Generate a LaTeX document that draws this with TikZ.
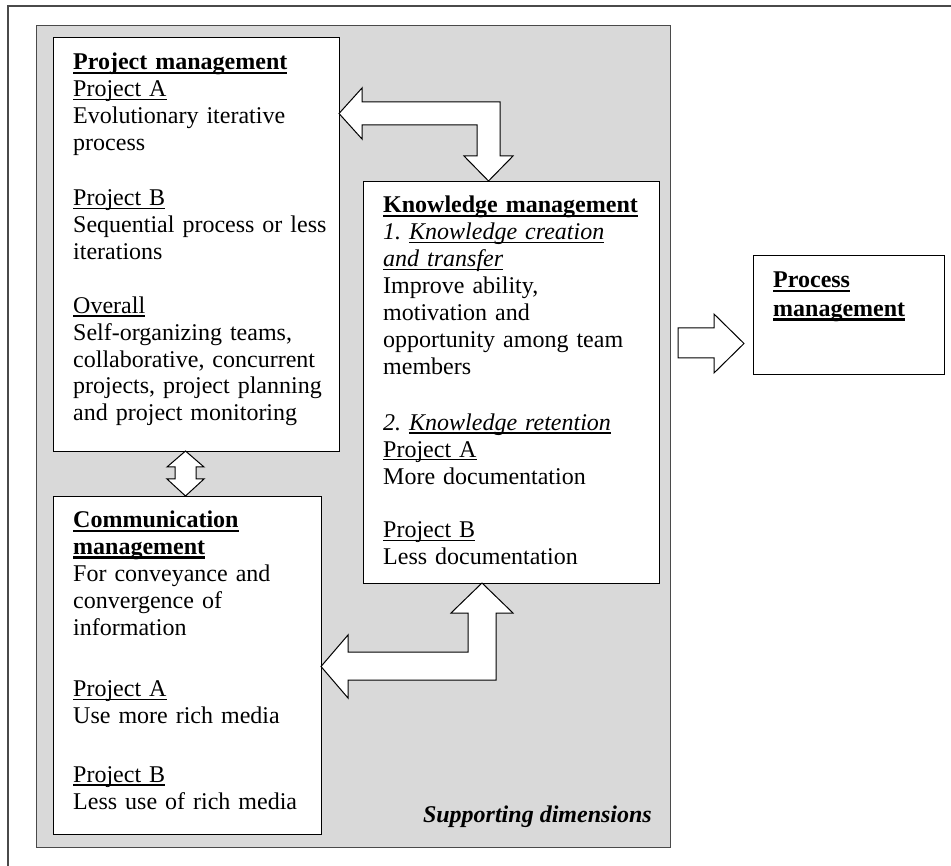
\documentclass[tikz,border=0pt]{standalone}
\usepackage{fontspec}
\setmainfont{Liberation Serif}
\frenchspacing

% Word-style underlines: a rule just under the baseline, crossing descenders
\newsavebox\ulbox
\newcommand\ulnorm[1]{\leavevmode\sbox\ulbox{#1}\rlap{\rule[-3.3pt]{\wd\ulbox}{1.2pt}}\usebox\ulbox}
\newcommand\ulbold[1]{\leavevmode\sbox\ulbox{\bfseries #1}\rlap{\rule[-3.9pt]{\wd\ulbox}{2.3pt}}\usebox\ulbox}

\definecolor{panelgray}{HTML}{D9D9D9}
\definecolor{framegray}{HTML}{4A4A4A}

\tikzset{
  panel/.style={draw=black, line width=1pt, fill=white, rectangle,
    anchor=north west, inner sep=0pt},
  body/.style={inner sep=0pt, anchor=base west, text width=290pt, align=left,
    font=\fontsize{24}{26.9}\selectfont},
  blockarrow/.style={draw=black, line width=1pt, fill=white, line join=miter},
}

\begin{document}
\begin{tikzpicture}[x=1pt, y=-1pt]
  \useasboundingbox (0,0) rectangle (951,866);
  \fill[white] (0,0) rectangle (951,866);

  % outer frame (only its top and left edges fall inside the page)
  \draw[framegray, line width=1.6pt] (8,880) -- (8,6) -- (960,6);

  % grey area of the supporting dimensions
  \node[draw=framegray, line width=1.4pt, fill=panelgray, rectangle,
        anchor=north west, inner sep=0pt,
        minimum width=634pt, minimum height=822pt] (support) at (36,25) {};

  % the four panels
  \node[panel, minimum width=286pt, minimum height=414pt] (pm) at (53,37) {};
  \node[panel, minimum width=296pt, minimum height=402pt] (km) at (363,181) {};
  \node[panel, minimum width=268pt, minimum height=338pt] (cm) at (53,496) {};
  \node[panel, minimum width=191pt, minimum height=119pt] (proc) at (753,255) {};

  % panel texts
  \node[body] (pmtext) at (73,70) {%
    \ulbold{Project management}\\
    \ulnorm{Project A}\\
    Evolutionary iterative\\
    process\\[28pt]
    \ulnorm{Project B}\\
    Sequential process or less\\
    iterations\\[27pt]
    \ulnorm{Overall}\\
    Self-organizing teams,\\
    collaborative, concurrent\\
    projects, project planning\\
    and project monitoring};

  \node[body] (kmtext) at (383,213) {%
    \ulbold{Knowledge management}\\
    \textit{1. \ulnorm{Knowledge creation}}\\
    \textit{\ulnorm{and transfer}}\\
    Improve ability,\\
    motivation and\\
    opportunity among team\\
    members\\[29pt]
    \textit{2. \ulnorm{Knowledge retention}}\\
    \ulnorm{Project A}\\
    More documentation\\[27pt]
    \ulnorm{Project B}\\
    Less documentation};

  \node[body] (cmtext) at (73,528) {%
    \ulbold{Communication}\\
    \ulbold{management}\\
    For conveyance and\\
    convergence of\\
    information\\[34pt]
    \ulnorm{Project A}\\
    Use more rich media\\[32pt]
    \ulnorm{Project B}\\
    Less use of rich media};

  \node[body, text width=170pt] (proctext) at (773,288) {%
    \ulbold{Process}\\[2pt]
    \ulbold{management}};

  \node[inner sep=0pt, anchor=base east,
        font=\fontsize{24}{27}\selectfont\bfseries\itshape] (supportlabel)
        at (652,822) {Supporting dimensions};

  % block arrows between the panels
  % project management <-> knowledge management
  \draw[blockarrow] (339,113.5) -- (362,88) -- (362,102) -- (500,102)
    -- (500,156) -- (513,156) -- (488.5,181) -- (464,156) -- (477,156)
    -- (477,125) -- (362,125) -- (362,139) -- cycle;
  % project management <-> communication management
  \draw[blockarrow] (185.5,451) -- (204,467) -- (196,467) -- (196,479)
    -- (204,479) -- (185.5,496) -- (167,479) -- (175,479) -- (175,467)
    -- (167,467) -- cycle;
  % knowledge management <-> communication management
  \draw[blockarrow] (321,666.5) -- (348,635) -- (348,652) -- (468,652)
    -- (468,613) -- (451,613) -- (482,583) -- (513,613) -- (496,613)
    -- (496,680) -- (348,680) -- (348,698) -- cycle;
  % supporting dimensions -> process management
  \draw[blockarrow] (678,328) -- (714,328) -- (714,314) -- (744,343.5)
    -- (714,373) -- (714,358) -- (678,358) -- cycle;
\end{tikzpicture}
\end{document}
